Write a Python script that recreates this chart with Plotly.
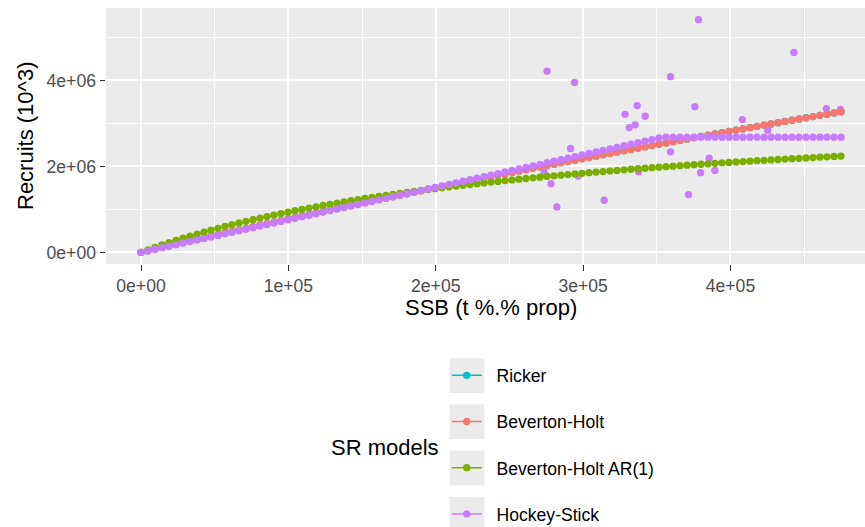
import plotly.graph_objects as go

# ---------------- data ----------------
ssb_grid = [0, 4750, 9500, 14250, 19000, 23750, 28500, 33250, 38000, 42750, 47500, 52250, 57000,
            61750, 66500, 71250, 76000, 80750, 85500, 90250, 95000, 99750, 104500, 109250, 114000,
            118750, 123500, 128250, 133000, 137750, 142500, 147250, 152000, 156750, 161500, 166250,
            171000, 175750, 180500, 185250, 190000, 194750, 199500, 204250, 209000, 213750, 218500,
            223250, 228000, 232750, 237500, 242250, 247000, 251750, 256500, 261250, 266000, 270750,
            275500, 280250, 285000, 289750, 294500, 299250, 304000, 308750, 313500, 318250, 323000,
            327750, 332500, 337250, 342000, 346750, 351500, 356250, 361000, 365750, 370500, 375250,
            380000, 384750, 389500, 394250, 399000, 403750, 408500, 413250, 418000, 422750, 427500,
            432250, 437000, 441750, 446500, 451250, 456000, 460750, 465500, 470250, 475000]

# fitted recruits, thousands
ricker = [0, 38, 76, 114, 152, 189, 227, 264, 301, 338, 376, 413, 450, 486, 523, 559, 596, 632, 668,
          704, 740, 776, 812, 847, 883, 918, 953, 988, 1023, 1058, 1093, 1128, 1162, 1197, 1231, 1265,
          1300, 1334, 1368, 1401, 1435, 1469, 1502, 1536, 1569, 1602, 1635, 1668, 1701, 1734, 1766,
          1799, 1831, 1864, 1896, 1928, 1960, 1992, 2024, 2056, 2087, 2119, 2150, 2181, 2212, 2244,
          2274, 2305, 2336, 2367, 2397, 2428, 2458, 2489, 2519, 2549, 2579, 2609, 2639, 2668, 2698,
          2728, 2757, 2786, 2815, 2845, 2874, 2903, 2931, 2960, 2989, 3017, 3046, 3074, 3102, 3131,
          3159, 3187, 3215, 3242, 3270]

bev_holt = [0, 38, 76, 114, 152, 189, 227, 264, 301, 338, 375, 412, 449, 486, 522, 559, 595, 631, 667,
            703, 739, 774, 810, 845, 881, 916, 951, 986, 1021, 1056, 1090, 1125, 1159, 1194, 1228, 1262,
            1296, 1330, 1364, 1398, 1431, 1465, 1498, 1531, 1565, 1598, 1631, 1664, 1696, 1729, 1762,
            1794, 1826, 1859, 1891, 1923, 1955, 1987, 2019, 2050, 2082, 2113, 2145, 2176, 2207, 2238,
            2269, 2300, 2331, 2362, 2393, 2423, 2454, 2484, 2514, 2544, 2575, 2605, 2635, 2664, 2694,
            2724, 2753, 2783, 2812, 2842, 2871, 2900, 2929, 2958, 2987, 3016, 3045, 3073, 3102, 3130,
            3159, 3187, 3215, 3243, 3271]

bev_holt_ar1 = [0, 59, 117, 172, 226, 278, 329, 378, 425, 472, 516, 560, 602, 643, 683, 722, 760, 797,
                833, 868, 902, 935, 968, 999, 1030, 1060, 1090, 1118, 1146, 1174, 1201, 1227, 1253, 1278,
                1302, 1326, 1350, 1373, 1395, 1417, 1439, 1460, 1481, 1502, 1522, 1541, 1560, 1579, 1598,
                1616, 1634, 1651, 1669, 1685, 1702, 1718, 1734, 1750, 1766, 1781, 1796, 1810, 1825, 1839,
                1853, 1867, 1880, 1894, 1907, 1920, 1933, 1945, 1957, 1970, 1982, 1993, 2005, 2016, 2028,
                2039, 2050, 2060, 2071, 2082, 2092, 2102, 2112, 2122, 2132, 2142, 2151, 2160, 2170, 2179,
                2188, 2197, 2206, 2214, 2223, 2231, 2240]

hockey_stick = [0, 36, 72, 108, 144, 180, 216, 252, 288, 324, 359, 395, 431, 467, 503, 539, 575, 611, 647,
                683, 719, 755, 791, 827, 863, 899, 935, 971, 1007, 1042, 1078, 1114, 1150, 1186, 1222,
                1258, 1294, 1330, 1366, 1402, 1438, 1474, 1510, 1546, 1582, 1618, 1654, 1690, 1726, 1761,
                1797, 1833, 1869, 1905, 1941, 1977, 2013, 2049, 2085, 2121, 2157, 2193, 2229, 2265, 2301,
                2337, 2373, 2409, 2444, 2480, 2516, 2552, 2588, 2624, 2660, 2679, 2679, 2679, 2679, 2679,
                2679, 2679, 2679, 2679, 2679, 2679, 2679, 2679, 2679, 2679, 2679, 2679, 2679, 2679, 2679,
                2679, 2679, 2679, 2679, 2679, 2679]

# observed stock-recruit pairs (SSB t, recruits thousands)
obs_ssb = [275500, 294200, 378300, 359300, 336700, 328500, 342100, 375800, 331300, 335300, 291500,
           278200, 282200, 314300, 359300, 371500, 379700, 385500, 389400, 408100, 425300, 443100,
           465100, 474600, 337600, 296700, 273500]
obs_rec = [4218, 3954, 5414, 4086, 3414, 3212, 3166, 3390, 2904, 2966, 2417, 1599, 1057, 1212, 2340,
           1344, 1854, 2192, 1907, 3089, 2841, 4649, 3344, 3328, 1877, 1775, 1868]

model_names = ["Ricker", "Beverton-Holt", "Beverton-Holt AR(1)", "Hockey-Stick"]
model_colors = ["#00BFC4", "#F8766D", "#7CAE00", "#C77CFF"]
model_values = [ricker, bev_holt, bev_holt_ar1, hockey_stick]

x_tickvals = [0, 100000, 200000, 300000, 400000]
x_ticktext = ["0e+00", "1e+05", "2e+05", "3e+05", "4e+05"]
x_minor = [50000, 150000, 250000, 350000, 450000]
y_tickvals = [0, 2000000, 4000000]
y_ticktext = ["0e+00", "2e+06", "4e+06"]
y_minor = [1000000, 3000000, 5000000]

for arr in model_values:
    assert len(arr) == len(ssb_grid), len(arr)
assert len(obs_ssb) == len(obs_rec)

FONT = "Liberation Sans, Arial, sans-serif"
W, H = 865, 527
L, R_, T, B = 106, 0, 8, 263
PW = W - L - R_
PH = H - T - B

def px(xp):
    return (xp - L) / PW

def py(yp):
    return (H - B - yp) / PH

fig = go.Figure()

# observed points (shown in the last model's colour, drawn below the fits)
fig.add_trace(go.Scatter(
    x=obs_ssb, y=[v * 1000 for v in obs_rec], mode="markers",
    marker=dict(color=model_colors[-1], size=7.3, line=dict(width=0)),
    showlegend=False, hoverinfo="skip"))

# fitted curves
for name, col, vals in zip(model_names, model_colors, model_values):
    fig.add_trace(go.Scatter(
        x=ssb_grid, y=[v * 1000 for v in vals], mode="lines+markers",
        name="\u00a0\u00a0" + name, legendgroup=name,
        line=dict(color=col, width=1.5),
        marker=dict(color=col, size=7.3, line=dict(width=0))))

# legend key backgrounds
key_tops = [358.3, 404.5, 450.7, 496.9]
shapes = []
for kt in key_tops:
    shapes.append(dict(type="rect", xref="paper", yref="paper",
                       x0=px(449.5), x1=px(484.3), y0=py(kt), y1=py(kt + 34.6),
                       fillcolor="#EBEBEB", line=dict(width=0), layer="above"))

annotations = [
    dict(text="SSB (t %.% prop)", xref="paper", yref="paper", x=px(491), y=py(307),
         xanchor="center", yanchor="middle", showarrow=False,
         font=dict(family=FONT, size=22, color="black")),
    dict(text="Recruits (10^3)", xref="paper", yref="paper", x=px(25), y=py(136),
         xanchor="center", yanchor="middle", showarrow=False, textangle=-90,
         font=dict(family=FONT, size=22, color="black")),
    dict(text="SR models", xref="paper", yref="paper", x=px(385), y=py(447.5),
         xanchor="center", yanchor="middle", showarrow=False,
         font=dict(family=FONT, size=22, color="black")),
]

axis_common = dict(
    showgrid=True, gridcolor="white", gridwidth=1.5, zeroline=False, showline=False,
    ticks="outside", ticklen=5.5, tickwidth=1.4, tickcolor="#333333",
    tickfont=dict(family=FONT, size=17.6, color="#4D4D4D"),
)

fig.update_layout(
    width=W, height=H,
    margin=dict(l=L, r=R_, t=T, b=B, pad=0, autoexpand=False),
    paper_bgcolor="white", plot_bgcolor="#EBEBEB",
    font=dict(family=FONT, color="black"),
    xaxis=dict(range=[-23750, 491283], tickmode="array", tickvals=x_tickvals, ticktext=x_ticktext,
               minor=dict(tickmode="array", tickvals=x_minor, showgrid=True, gridcolor="white",
                          gridwidth=0.75, ticks=""),
               **axis_common),
    yaxis=dict(range=[-270700, 5684700], tickmode="array", tickvals=y_tickvals, ticktext=y_ticktext,
               minor=dict(tickmode="array", tickvals=y_minor, showgrid=True, gridcolor="white",
                          gridwidth=0.75, ticks=""),
               **axis_common),
    showlegend=True,
    legend=dict(x=px(446.7), y=py(357.4), xanchor="left", yanchor="top",
                orientation="v", traceorder="grouped", tracegroupgap=20.3, itemwidth=30,
                bgcolor="rgba(0,0,0,0)", borderwidth=0,
                font=dict(family=FONT, size=17.6, color="black")),
    shapes=shapes,
    annotations=annotations,
)

fig.write_html("out.html")
